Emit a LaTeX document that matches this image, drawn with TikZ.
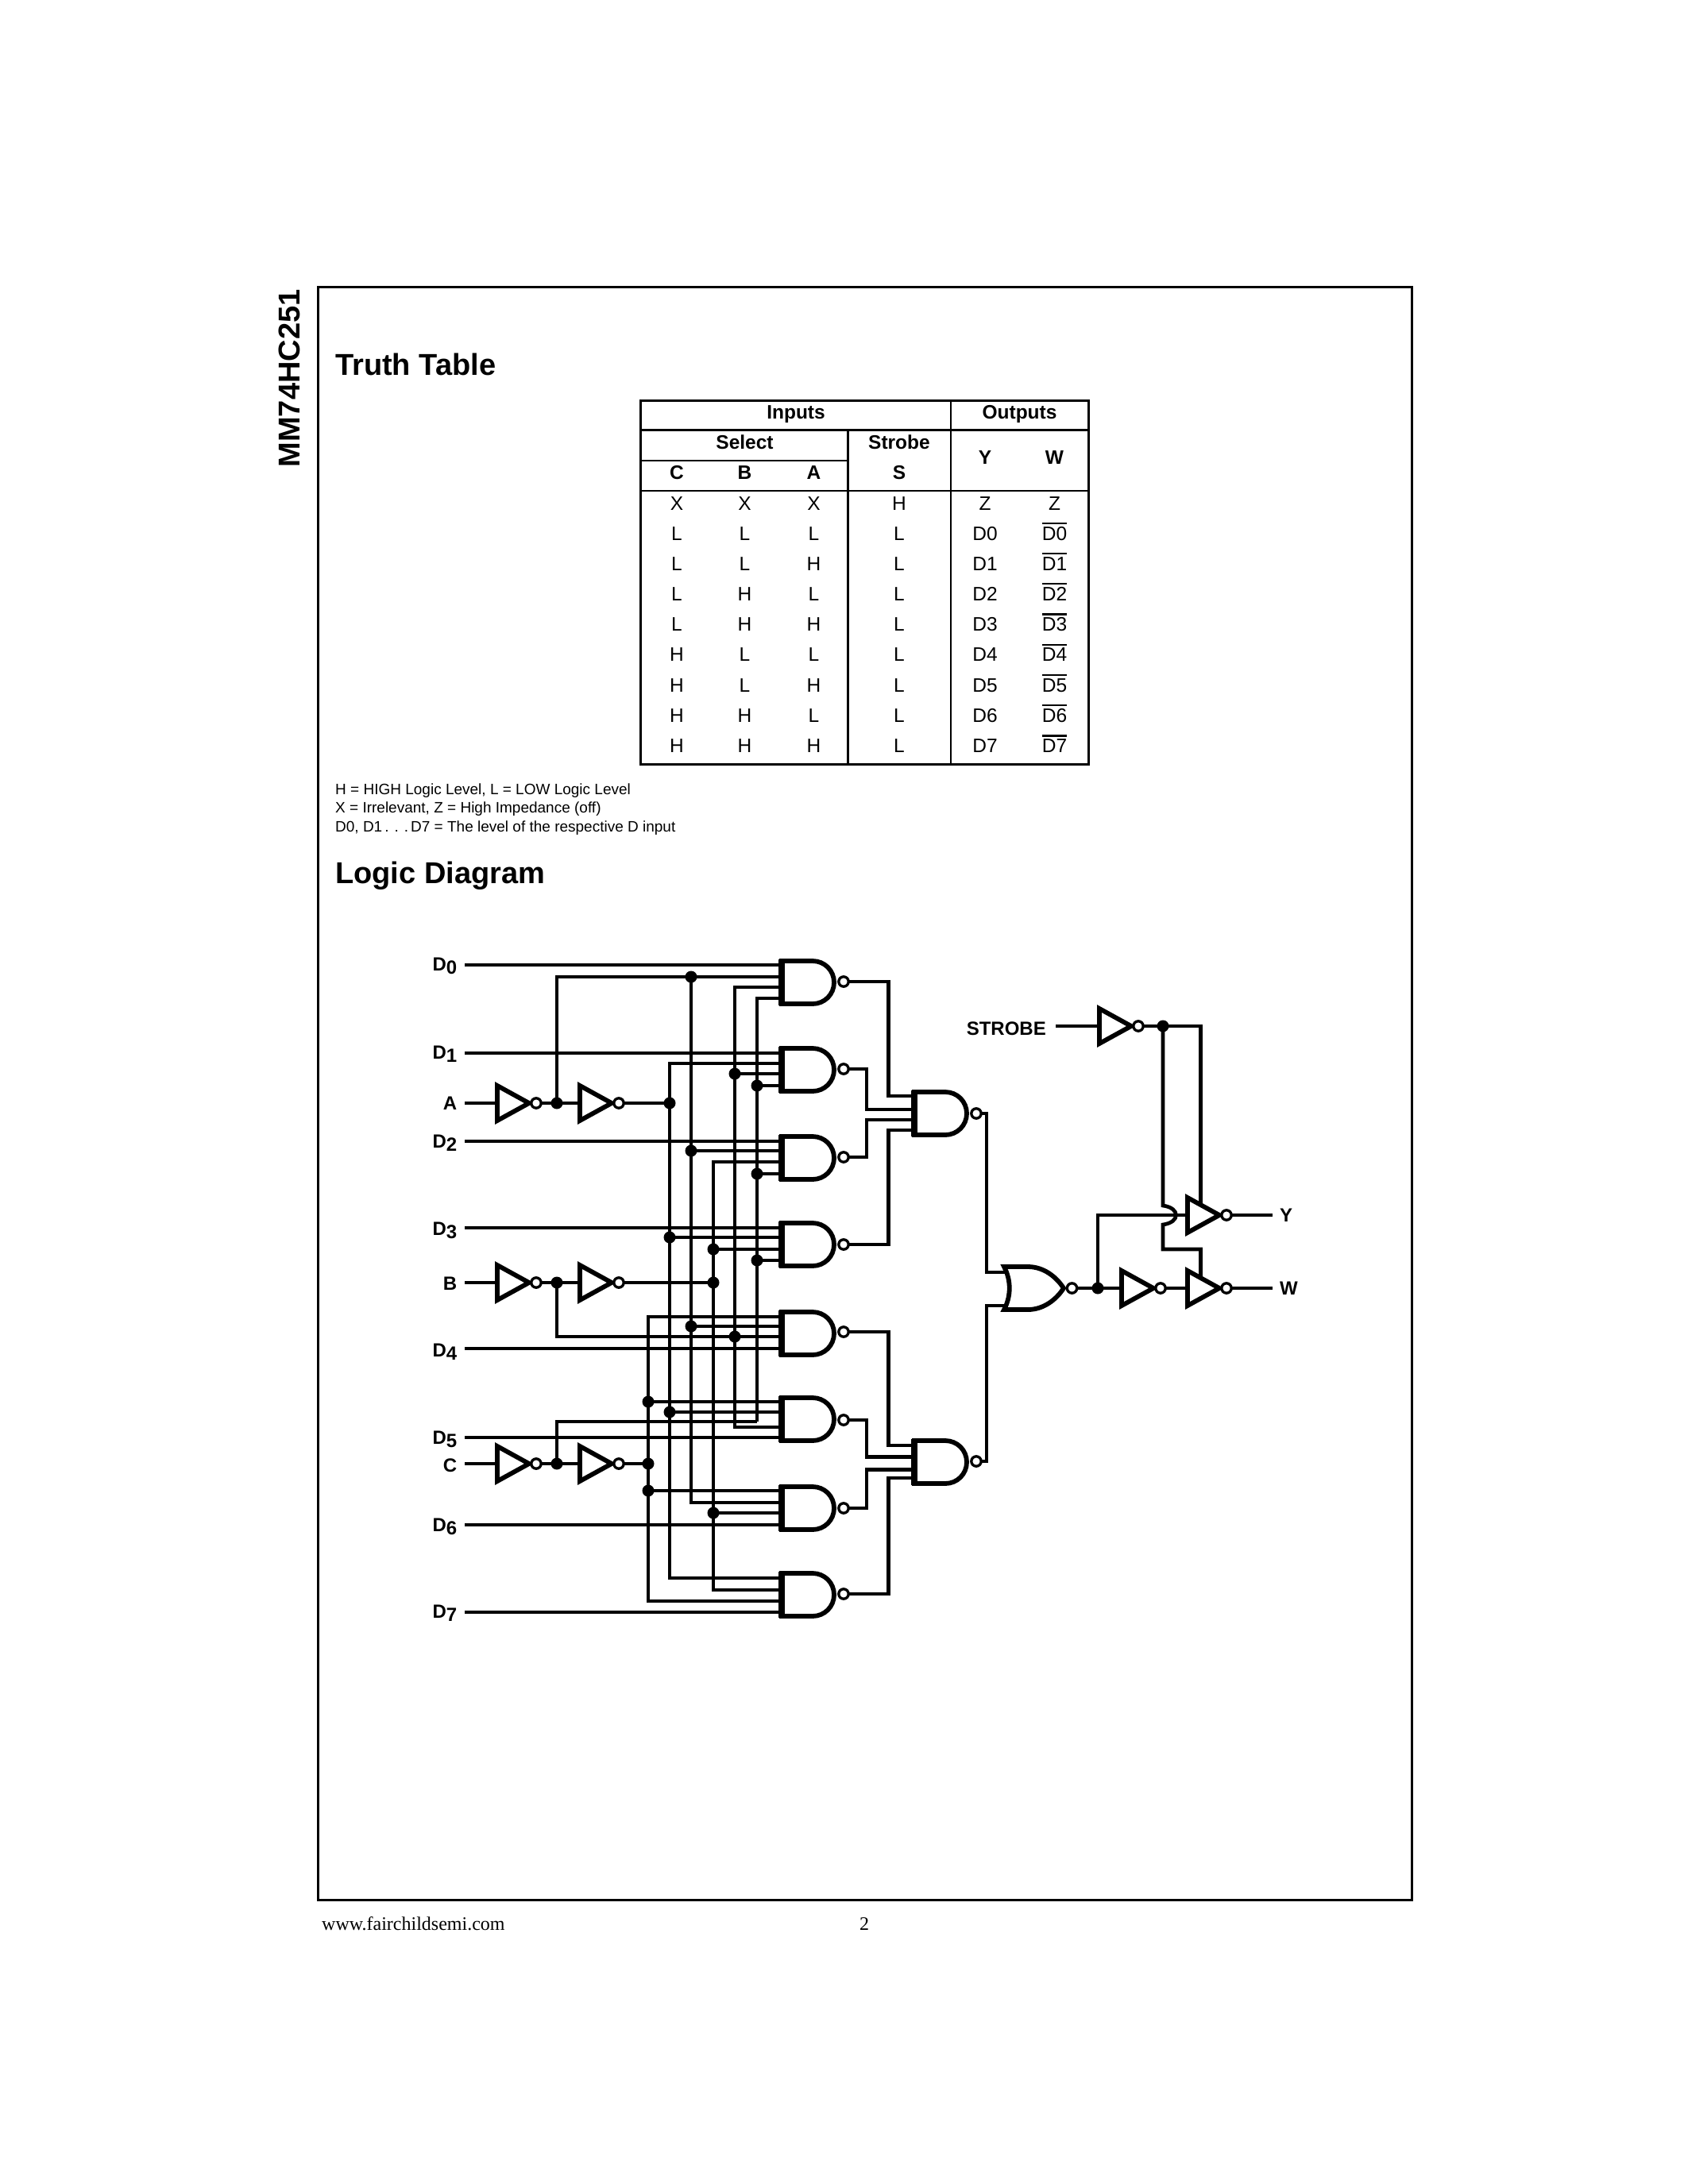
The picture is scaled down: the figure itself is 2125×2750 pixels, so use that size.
\documentclass[tikz,border=0pt]{standalone}
\usepackage{fontspec}
\setmainfont{Liberation Sans}
\newfontfamily\timesf{Liberation Serif}
\tikzset{
  wire/.style={line width=4.7pt,line join=miter},
  gatebody/.style={line width=5.8pt,fill=white,line join=miter},
  gateback/.style={line width=8pt},
  bub/.style={line width=3.3pt,fill=white},
  jdot/.style={fill=black,draw=none},
  tline/.style={line width=3pt},
  tthin/.style={line width=2.2pt},
  tb/.style={anchor=base,inner sep=0pt,font=\fontsize{24.5}{26}\selectfont\bfseries},
  tr/.style={anchor=base,inner sep=0pt,font=\fontsize{24.5}{26}\selectfont},
  lbl/.style={anchor=base east,inner sep=0pt,font=\fontsize{24}{25}\selectfont\bfseries},
  lblw/.style={anchor=base west,inner sep=0pt,font=\fontsize{24}{25}\selectfont\bfseries},
  note/.style={anchor=base west,inner sep=0pt,font=\fontsize{19}{22}\selectfont},
  head/.style={anchor=base west,inner sep=0pt,font=\fontsize{38}{40}\selectfont\bfseries}
}
% NAND gate: left x, top y, bubble y
\newcommand{\nandgate}[3]{%
  \pgfmathsetmacro{\fx}{#1+39}\pgfmathsetmacro{\ty}{#2}%
  \pgfmathsetmacro{\cxa}{\fx+15}\pgfmathsetmacro{\tipx}{\fx+27}%
  \pgfmathsetmacro{\cya}{\ty+12}\pgfmathsetmacro{\my}{\ty+27}%
  \pgfmathsetmacro{\cyb}{\ty+42}\pgfmathsetmacro{\by}{\ty+54}%
  \pgfmathsetmacro{\bubx}{\tipx+12}%
  \draw[gatebody] (#1,\ty) -- (\fx,\ty) .. controls (\cxa,\ty) and (\tipx,\cya) .. (\tipx,\my) .. controls (\tipx,\cyb) and (\cxa,\by) .. (\fx,\by) -- (#1,\by) -- cycle;
  \draw[gateback] (#1,\ty-2) -- (#1,\by+2);
  \draw[bub] (\bubx,#3) circle (6.2pt);
}
% inverter: left x, centre y
\newcommand{\invgate}[2]{%
  \pgfmathsetmacro{\tipx}{#1+40}\pgfmathsetmacro{\ta}{#2-22}\pgfmathsetmacro{\tb}{#2+22}%
  \pgfmathsetmacro{\bubx}{#1+49}%
  \draw[gatebody] (#1,\ta) -- (\tipx,#2) -- (#1,\tb) -- cycle;
  \draw[bub] (\bubx,#2) circle (6.2pt);
}
\newcommand{\jn}[1]{\fill[jdot] (#1) circle (7.5pt);}
\newcommand{\ovl}[1]{\vbox{\hrule height 2.4pt\kern 3pt\hbox{#1}}}
\newcommand{\trow}[7]{%
  \pgfmathsetmacro{\yy}{642+38.17*#1}%
  \node[tr] (r#1c) at (852,\yy) {#2};
  \node[tr] (r#1b) at (937.5,\yy) {#3};
  \node[tr] (r#1a) at (1024.5,\yy) {#4};
  \node[tr] (r#1s) at (1132,\yy) {#5};
  \node[tr] (r#1y) at (1240,\yy) {#6};
  \node[tr] (r#1w) at (1327.5,\yy) {#7};
}
\begin{document}
\begin{tikzpicture}[x=1pt,y=-1pt]
\useasboundingbox (0,0) rectangle (2125,2750);
\fill[white] (0,0) rectangle (2125,2750);
% page frame
\draw[line width=3pt] (400.7,361.7) rectangle (1777,2392);
\node[anchor=base west,inner sep=0pt,rotate=90,font=\fontsize{38}{40}\selectfont\bfseries] (part) at (377,588.5) {MM74HC251};
\node[head] (tt) at (422,472) {Truth Table};
\node[head] (ld) at (422,1112) {Logic Diagram};
\node[note] (n1) at (422,1000) {H = HIGH Logic Level, L = LOW Logic Level};
\node[note] (n2) at (422,1023) {X = Irrelevant, Z = High Impedance (off)};
\node[note] (n3) at (422,1047.7) {D0, D1\hspace{3pt}.\hspace{7pt}.\hspace{7pt}.\hspace{3pt}D7 = The level of the respective D input};
\node[anchor=base west,inner sep=0pt,font=\fontsize{24}{26}\selectfont\timesf] (url) at (405,2430) {www.fairchildsemi.com};
\node[anchor=base west,inner sep=0pt,font=\fontsize{24}{26}\selectfont\timesf] (pg) at (1082,2430) {2};
% truth table
\draw[tline] (806.5,504) rectangle (1370,962);
\draw[tline] (806.5,541) -- (1370,541);
\draw[tthin] (806.5,580) -- (1067.5,580);
\draw[tthin] (806.5,618) -- (1370,618);
\draw[tthin] (1067.5,541) -- (1067.5,962);
\draw[tthin] (1197,504) -- (1197,962);
\node[tb] (hin) at (1002,527) {Inputs};
\node[tb] (hout) at (1283.5,527) {Outputs};
\node[tb] (hsel) at (937.5,565) {Select};
\node[tb] (hstr) at (1132,565) {Strobe};
\node[tb] (hc) at (852,603) {C};
\node[tb] (hb) at (937.5,603) {B};
\node[tb] (ha) at (1024.5,603) {A};
\node[tb] (hs) at (1132,603) {S};
\node[tb] (hy) at (1240,584) {Y};
\node[tb] (hw) at (1327.5,584) {W};
\trow{0}{X}{X}{X}{H}{Z}{Z}
\trow{1}{L}{L}{L}{L}{D0}{\ovl{D0}}
\trow{2}{L}{L}{H}{L}{D1}{\ovl{D1}}
\trow{3}{L}{H}{L}{L}{D2}{\ovl{D2}}
\trow{4}{L}{H}{H}{L}{D3}{\ovl{D3}}
\trow{5}{H}{L}{L}{L}{D4}{\ovl{D4}}
\trow{6}{H}{L}{H}{L}{D5}{\ovl{D5}}
\trow{7}{H}{H}{L}{L}{D6}{\ovl{D6}}
\trow{8}{H}{H}{H}{L}{D7}{\ovl{D7}}
% pins
\foreach \n/\a/\b/\c/\d/\o in {g1/1215/1230/1243/1257/1236,g2/1326/1339/1352/1367/1346,g3/1437/1449/1463/1478/1457,g4/1546/1558/1573/1587/1567,g5/1658/1670/1683/1698/1677,g6/1765/1778/1797/1810/1788,g7/1877/1892/1905/1920/1899,g8/1987/2002/2016/2030/2007}{
  \coordinate (\n-1) at (984,\a);\coordinate (\n-2) at (984,\b);
  \coordinate (\n-3) at (984,\c);\coordinate (\n-4) at (984,\d);
  \coordinate (\n-o) at (1066,\o);
}
\coordinate (d0) at (585,1215);\coordinate (d1) at (585,1326);\coordinate (d2) at (585,1437);\coordinate (d3) at (585,1546);
\coordinate (d4) at (585,1698);\coordinate (d5) at (585,1810);\coordinate (d6) at (585,1920);\coordinate (d7) at (585,2030);
\coordinate (ina) at (585,1389);\coordinate (inb) at (585,1615);\coordinate (inc) at (585,1843);
\coordinate (ja1) at (701,1389);\coordinate (ja2) at (843,1389);
\coordinate (jb1) at (701,1615);\coordinate (jb2) at (898,1615);
\coordinate (jc1) at (701,1843);\coordinate (jc2) at (816,1843);
\coordinate (abus) at (870,1230);\coordinate (bbus) at (925,1683);\coordinate (cbus) at (953,1790);
\coordinate (ia1o) at (681,1389);\coordinate (ia2o) at (785,1389);\coordinate (ia1i) at (626,1389);\coordinate (ia2i) at (730,1389);
\coordinate (ib1o) at (681,1615);\coordinate (ib2o) at (785,1615);\coordinate (ib1i) at (626,1615);\coordinate (ib2i) at (730,1615);
\coordinate (ic1o) at (681,1843);\coordinate (ic2o) at (785,1843);\coordinate (ic1i) at (626,1843);\coordinate (ic2i) at (730,1843);
% data inputs
\draw[wire] (d0) -- (g1-1); \draw[wire] (d1) -- (g2-1); \draw[wire] (d2) -- (g3-1); \draw[wire] (d3) -- (g4-1);
\draw[wire] (d4) -- (g5-4); \draw[wire] (d5) -- (g6-4); \draw[wire] (d6) -- (g7-4); \draw[wire] (d7) -- (g8-4);
% select rows
\draw[wire] (ina) -- (ia1i); \draw[wire] (ia1o) -- (ia2i); \draw[wire] (ia2o) -- (ja2);
\draw[wire] (inb) -- (ib1i); \draw[wire] (ib1o) -- (ib2i); \draw[wire] (ib2o) -- (jb2);
\draw[wire] (inc) -- (ic1i); \draw[wire] (ic1o) -- (ic2i); \draw[wire] (ic2o) -- (jc2);
% A buses
\draw[wire] (ja1) |- (g1-2);
\draw[wire] (abus) |- (g7-2);
\draw[wire] (abus |- g3-2) -- (g3-2);
\draw[wire] (abus |- g5-2) -- (g5-2);
\draw[wire] (g2-2) -| (ja2) |- (g8-1);
\draw[wire] (ja2 |- g4-2) -- (g4-2);
\draw[wire] (ja2 |- g6-2) -- (g6-2);
% B buses
\draw[wire] (jb1) |- (g5-3);
\draw[wire] (g1-3) -| (bbus) |- (g6-3);
\draw[wire] (bbus |- g2-3) -- (g2-3);
\draw[wire] (g3-3) -| (jb2) |- (g8-2);
\draw[wire] (jb2 |- g4-3) -- (g4-3);
\draw[wire] (jb2 |- g7-3) -- (g7-3);
% C buses
\draw[wire] (jc1) |- (cbus);
\draw[wire] (g1-4) -| (cbus);
\draw[wire] (cbus |- g2-4) -- (g2-4);
\draw[wire] (cbus |- g3-4) -- (g3-4);
\draw[wire] (cbus |- g4-4) -- (g4-4);
\draw[wire] (g5-1) -| (jc2) |- (g8-3);
\draw[wire] (jc2 |- g6-1) -- (g6-1);
\draw[wire] (jc2 |- g7-1) -- (g7-1);
% junction dots
\foreach \p in {ja1,ja2,jb1,jb2,jc1,jc2,abus,bbus,{abus |- g3-2},{abus |- g5-2},{ja2 |- g4-2},{ja2 |- g6-2},{bbus |- g2-3},{jb2 |- g4-3},{jb2 |- g7-3},{cbus |- g2-4},{cbus |- g3-4},{cbus |- g4-4},{jc2 |- g6-1},{jc2 |- g7-1}}{\jn{\p}}
% output stage
\coordinate (ga-1) at (1151,1380);\coordinate (ga-2) at (1151,1397);\coordinate (ga-3) at (1151,1410);\coordinate (ga-4) at (1151,1423);
\coordinate (gb-1) at (1151,1820);\coordinate (gb-2) at (1151,1834.5);\coordinate (gb-3) at (1151,1850.5);\coordinate (gb-4) at (1151,1861);
\coordinate (ra1) at (1118.5,1380);\coordinate (ra2) at (1091,1397);\coordinate (ra3) at (1091,1410);\coordinate (ra4) at (1118.5,1423);
\coordinate (rb1) at (1118.5,1820);\coordinate (rb2) at (1091,1834.5);\coordinate (rb3) at (1091,1850.5);\coordinate (rb4) at (1118.5,1861);
\draw[wire] (g1-o) -| (ra1) -- (ga-1);
\draw[wire] (g2-o) -| (ra2) -- (ga-2);
\draw[wire] (g3-o) -| (ra3) -- (ga-3);
\draw[wire] (g4-o) -| (ra4) -- (ga-4);
\draw[wire] (g5-o) -| (rb1) -- (gb-1);
\draw[wire] (g6-o) -| (rb2) -- (gb-2);
\draw[wire] (g7-o) -| (rb3) -- (gb-3);
\draw[wire] (g8-o) -| (rb4) -- (gb-4);
\coordinate (gao) at (1233,1402);\coordinate (gbo) at (1233,1840);
\coordinate (ra) at (1242,1602);\coordinate (rb) at (1242,1644);
\coordinate (ori1) at (1266,1602);\coordinate (ori2) at (1266,1644);
\draw[wire] (gao) -| (ra) -- (ori1);
\draw[wire] (gbo) -| (rb) -- (ori2);
\coordinate (oro) at (1355,1622);\coordinate (jo) at (1382,1622);
\coordinate (i3i) at (1412,1622);\coordinate (i3o) at (1467,1622);\coordinate (i4i) at (1495,1622);\coordinate (i4o) at (1550,1622);
\coordinate (wout) at (1602,1622);
\coordinate (i5i) at (1495,1530);\coordinate (i5o) at (1550,1530);\coordinate (yout) at (1602,1530);
\coordinate (sin) at (1329,1292);\coordinate (s1i) at (1384,1292);\coordinate (s1o) at (1439,1292);\coordinate (js) at (1464,1292);
\coordinate (sr) at (1511.5,1292);\coordinate (sy) at (1511.5,1517);\coordinate (hop1) at (1464,1518);\coordinate (hop2) at (1464,1542);
\coordinate (sd) at (1464,1573);\coordinate (sw) at (1511.5,1573);\coordinate (swe) at (1511.5,1609);
\draw[wire] (oro) -- (i3i); \draw[wire] (i3o) -- (i4i); \draw[wire] (i4o) -- (wout);
\draw[wire] (jo) |- (i5i); \draw[wire] (i5o) -- (yout);
\draw[wire] (sin) -- (s1i); \draw[wire] (s1o) -- (sr) -- (sy);
\draw[wire] (js) -- (hop1) .. controls (1486,1521) and (1486,1539) .. (hop2) -- (sd) -- (sw) -- (swe);
\jn{jo}\jn{js}
% gates, on top of wires
\nandgate{984}{1210}{1236}
\nandgate{984}{1320}{1346}
\nandgate{984}{1431}{1457}
\nandgate{984}{1540}{1567}
\nandgate{984}{1652}{1677}
\nandgate{984}{1760}{1788}
\nandgate{984}{1872}{1899}
\nandgate{984}{1981}{2007}
\nandgate{1151}{1375}{1402}
\nandgate{1151}{1814}{1840}
% NOR gate
\draw[gatebody] (1264,1595) -- (1294,1595) .. controls (1314,1595) and (1330,1608) .. (1339,1622) .. controls (1330,1636) and (1314,1649) .. (1294,1649) -- (1264,1649) .. controls (1273,1632) and (1273,1612) .. (1264,1595) -- cycle;
\draw[bub] (1349.5,1622) circle (6.2pt);
% inverters
\invgate{626}{1389}\invgate{730}{1389}
\invgate{626}{1615}\invgate{730}{1615}
\invgate{626}{1843}\invgate{730}{1843}
\invgate{1384}{1292}\invgate{1412}{1622}\invgate{1495}{1622}\invgate{1495}{1530}
% labels
\node[lbl] (ld0) at (575.5,1222) {D\raisebox{-4pt}{0}};
\node[lbl] (ld1) at (575.5,1333) {D\raisebox{-4pt}{1}};
\node[lbl] (ld2) at (575.5,1445) {D\raisebox{-4pt}{2}};
\node[lbl] (ld3) at (575.5,1555) {D\raisebox{-4pt}{3}};
\node[lbl] (ld4) at (575.5,1708) {D\raisebox{-4pt}{4}};
\node[lbl] (ld5) at (575.5,1818) {D\raisebox{-4pt}{5}};
\node[lbl] (ld6) at (575.5,1928) {D\raisebox{-4pt}{6}};
\node[lbl] (ld7) at (575.5,2037) {D\raisebox{-4pt}{7}};
\node[lbl] (la) at (575.5,1397) {A};
\node[lbl] (lb) at (575.5,1624) {B};
\node[lbl] (lc) at (575.5,1853) {C};
\node[lbl] (ls) at (1317,1303) {STROBE};
\node[lblw] (ly) at (1611,1538) {Y};
\node[lblw] (lw) at (1611,1630) {W};
\end{tikzpicture}
\end{document}
